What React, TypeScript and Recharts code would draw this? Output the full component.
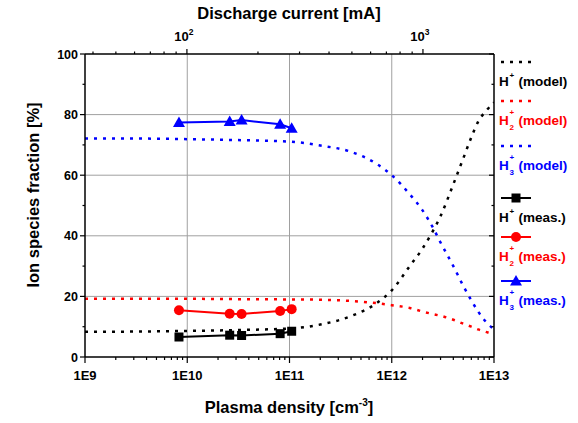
import React from 'react'
import {
  LineChart,
  Line,
  XAxis,
  YAxis,
  ReferenceLine,
} from 'recharts'

// ---- data ----
const modelDensity = [1e9, 3e9, 1e10, 3e10, 1e11, 2e11, 4e11, 7e11, 1e12, 1.5e12, 2e12, 2.5e12, 3e12, 4e12, 5e12, 6e12, 7e12, 8.5e12, 1e13]
const modelH1 = [8.3, 8.4, 8.6, 8.9, 9.4, 10.7, 13.5, 17.6, 22, 30, 35.8, 41.3, 46.5, 57, 65.5, 72.5, 77.7, 81.5, 84]
const modelH2 = [19.2, 19.2, 19.2, 19.1, 19.0, 18.9, 18.5, 17.8, 17.1, 16.2, 15.0, 14.2, 13.6, 12.3, 11.0, 10.0, 9.1, 8.2, 7.4]
const modelH3 = [72.1, 72.1, 71.9, 71.6, 71.1, 69.8, 67.7, 63.9, 60, 53.7, 48.4, 43, 37.8, 30, 23.5, 18.7, 15, 11.3, 9.2]

const measDensity = [8.3e9, 2.6e10, 3.4e10, 8.1e10, 1.05e11]
const measH1 = [6.6, 7.2, 7.1, 7.7, 8.5]
const measH2 = [15.4, 14.3, 14.2, 15.2, 15.8]
const measH3 = [77.4, 77.7, 78.2, 76.8, 75.5]

const densityMajor = [1e9, 1e10, 1e11, 1e12, 1e13]
const densityLabels = ['1E9', '1E10', '1E11', '1E12', '1E13']
const currentMajor = [100, 1000]
const currentExp = ['2', '3']
const currentDomain = [37, 2000]
const yMajor = [0, 20, 40, 60, 80, 100]
const yMinor = [10, 30, 50, 70, 90]
const gridDensity = [1e10, 1e11, 1e12]
const gridY = [20, 40, 60, 80]

const BLACK = '#000000'
const RED = '#ff0000'
const BLUE = '#0000ff'
const FONT = '"Liberation Sans", Arial, sans-serif'

const toPoints = (xs: number[], ys: number[]) => xs.map((x, i) => ({ x, y: ys[i] }))

// 1..9 x 10^d ticks for a log axis
function logTicks(lo: number, hi: number) {
  const out: number[] = []
  for (let d = Math.floor(Math.log10(lo)); d <= Math.ceil(Math.log10(hi)); d++) {
    for (let m = 1; m <= 9; m++) {
      const v = m * Math.pow(10, d)
      if (v >= lo * 0.999 && v <= hi * 1.001) out.push(+v.toPrecision(3))
    }
  }
  return out
}

const densityTicks = logTicks(1e9, 1e13)
const currentTicks = logTicks(currentDomain[0], currentDomain[1]).filter((v) => v >= 40 && v < 2000)
const yTicks = [...yMajor, ...yMinor].sort((a, b) => a - b)

const BottomTick = (props: any) => {
  const { x, y, payload } = props
  const v = payload.value
  const idx = densityMajor.findIndex((m) => Math.abs(m - v) / m < 1e-6)
  const major = idx >= 0
  return (
    <g>
      <line x1={x} x2={x} y1={y} y2={y + (major ? 6 : 3)} stroke={BLACK} strokeWidth={1.2} />
      {major && (
        <text x={x} y={y + 23} textAnchor="middle" fontFamily={FONT} fontWeight="bold" fontSize={13} fill={BLACK}>
          {densityLabels[idx]}
        </text>
      )}
    </g>
  )
}

const TopTick = (props: any) => {
  const { x, y, payload } = props
  const v = payload.value
  const idx = currentMajor.findIndex((m) => Math.abs(m - v) / m < 1e-6)
  const major = idx >= 0
  return (
    <g>
      <line x1={x} x2={x} y1={y} y2={y - (major ? 5 : 2.5)} stroke={BLACK} strokeWidth={1.2} />
      {major && (
        <text x={x - 3} y={y - 13} textAnchor="middle" fontFamily={FONT} fontWeight="bold" fontSize={13} fill={BLACK}>
          10
          <tspan dy={-6} fontSize={8.5}>{currentExp[idx]}</tspan>
        </text>
      )}
    </g>
  )
}

const LeftTick = (props: any) => {
  const { x, y, payload } = props
  const major = yMajor.includes(payload.value)
  return (
    <g>
      <line x1={x} x2={x - (major ? 5 : 2.5)} y1={y} y2={y} stroke={BLACK} strokeWidth={1.2} />
      {major && (
        <text x={x - 7} y={y + 4.5} textAnchor="end" fontFamily={FONT} fontWeight="bold" fontSize={12.5} fill={BLACK}>
          {payload.value}
        </text>
      )}
    </g>
  )
}

const RightTick = (props: any) => {
  const { x, y, payload } = props
  const major = yMajor.includes(payload.value)
  return <line x1={x} x2={x - (major ? 5 : 2.5)} y1={y} y2={y} stroke={BLACK} strokeWidth={1.2} />
}

const Square = (props: any) => {
  const { cx, cy } = props
  if (cx == null || cy == null) return null
  return <rect x={cx - 4.5} y={cy - 4.5} width={9} height={9} fill={BLACK} />
}
const Circle = (props: any) => {
  const { cx, cy } = props
  if (cx == null || cy == null) return null
  return <circle cx={cx} cy={cy} r={5} fill={RED} />
}
const Triangle = (props: any) => {
  const { cx, cy } = props
  if (cx == null || cy == null) return null
  return <polygon points={`${cx},${cy - 6} ${cx - 6},${cy + 4.5} ${cx + 6},${cy + 4.5}`} fill={BLUE} />
}

const series = [
  { key: 'm1', data: toPoints(modelDensity, modelH1), color: BLACK, dotted: true, n: '', label: '(model)' },
  { key: 'm2', data: toPoints(modelDensity, modelH2), color: RED, dotted: true, n: '2', label: '(model)' },
  { key: 'm3', data: toPoints(modelDensity, modelH3), color: BLUE, dotted: true, n: '3', label: '(model)' },
  { key: 'e1', data: toPoints(measDensity, measH1), color: BLACK, dotted: false, n: '', label: '(meas.)', marker: Square },
  { key: 'e2', data: toPoints(measDensity, measH2), color: RED, dotted: false, n: '2', label: '(meas.)', marker: Circle },
  { key: 'e3', data: toPoints(measDensity, measH3), color: BLUE, dotted: false, n: '3', label: '(meas.)', marker: Triangle },
]

// legend layout: y of each sample line
const legendY = [62, 101, 146, 198, 237, 281]

// H with stacked charge (sup) and count (sub)
function Ion({ n }: { n: string }) {
  return (
    <span style={{ position: 'relative', display: 'inline-block', paddingRight: 6 }}>
      H
      <span style={{ position: 'absolute', left: 10.5, top: n ? -4 : -2, fontSize: 8, lineHeight: '8px' }}>+</span>
      {n && <span style={{ position: 'absolute', left: 10.5, top: 11, fontSize: 8, lineHeight: '8px' }}>{n}</span>}
    </span>
  )
}

function LegendBlock() {
  return (
    <>
      {series.map((s, i) => (
        <div key={s.key} style={{ position: 'absolute', left: 499, top: legendY[i] - 8, width: 79 }}>
          <svg width={36} height={16} style={{ display: 'block' }}>
            <line x1={2} x2={32} y1={8} y2={8} stroke={s.color} strokeWidth={s.dotted ? 2.5 : 2} strokeDasharray={s.dotted ? '3 6' : undefined} />
            {s.marker && React.createElement(s.marker, { cx: 17, cy: 8 })}
          </svg>
          <div style={{ fontFamily: FONT, fontWeight: 'bold', fontSize: 13.5, lineHeight: '16px', marginTop: 4, whiteSpace: 'nowrap', color: s.color }}>
            <Ion n={s.n} /> {s.label}
          </div>
        </div>
      ))}
    </>
  )
}

export default function App() {
  return (
    <div style={{ position: 'absolute', left: 0, top: 0, width: 578, height: 423, background: '#fff' }}>
      <LineChart width={578} height={423} margin={{ top: 24, right: 78, bottom: 30, left: 40 }}>
        {gridDensity.map((d) => (
          <ReferenceLine key={'gx' + d} x={d} xAxisId="bottom" yAxisId="left" stroke="#a0a0a0" strokeWidth={1} />
        ))}
        {gridY.map((v) => (
          <ReferenceLine key={'gy' + v} y={v} xAxisId="bottom" yAxisId="left" stroke="#a0a0a0" strokeWidth={1} />
        ))}
        <XAxis
          xAxisId="bottom"
          dataKey="x"
          type="number"
          scale="log"
          domain={[1e9, 1e13]}
          allowDataOverflow
          ticks={densityTicks}
          interval={0}
          tick={<BottomTick />}
          tickLine={false}
          tickSize={0}
          tickMargin={0}
          height={36}
          axisLine={{ stroke: BLACK, strokeWidth: 1.5 }}
        />
        <XAxis
          xAxisId="top"
          dataKey="x"
          orientation="top"
          type="number"
          scale="log"
          domain={currentDomain}
          allowDataOverflow
          ticks={currentTicks}
          interval={0}
          tick={<TopTick />}
          tickLine={false}
          tickSize={0}
          tickMargin={0}
          height={30}
          axisLine={{ stroke: BLACK, strokeWidth: 1.5 }}
        />
        <YAxis
          yAxisId="left"
          type="number"
          domain={[0, 100]}
          ticks={yTicks}
          interval={0}
          tick={<LeftTick />}
          tickLine={false}
          tickSize={0}
          tickMargin={0}
          width={45}
          axisLine={{ stroke: BLACK, strokeWidth: 1.5 }}
        />
        <YAxis
          yAxisId="right"
          orientation="right"
          type="number"
          domain={[0, 100]}
          allowDataOverflow
          ticks={yTicks}
          interval={0}
          tick={<RightTick />}
          tickLine={false}
          tickSize={0}
          tickMargin={0}
          width={6}
          axisLine={{ stroke: BLACK, strokeWidth: 1.5 }}
        />
        {/* invisible anchor so the current axis and the right frame axis get drawn */}
        <Line
          xAxisId="top"
          yAxisId="right"
          data={currentDomain.map((x) => ({ x, y: 0 }))}
          dataKey="y"
          stroke="none"
          dot={false}
          activeDot={false}
          legendType="none"
          isAnimationActive={false}
        />
        {series.map((s) => (
          <Line
            key={s.key}
            xAxisId="bottom"
            yAxisId="left"
            data={s.data}
            dataKey="y"
            type={s.dotted ? 'monotone' : 'linear'}
            stroke={s.color}
            strokeWidth={s.dotted ? 2.5 : 2}
            strokeDasharray={s.dotted ? '3 6' : undefined}
            dot={s.marker ? React.createElement(s.marker) : false}
            activeDot={false}
            isAnimationActive={false}
          />
        ))}
      </LineChart>
      <div style={{ position: 'absolute', left: 189, width: 200, top: 4, textAlign: 'center', fontFamily: FONT, fontWeight: 'bold', fontSize: 16.5, whiteSpace: 'nowrap' }}>
        Discharge current [mA]
      </div>
      <div style={{ position: 'absolute', left: 179, width: 220, top: 397, textAlign: 'center', fontFamily: FONT, fontWeight: 'bold', fontSize: 16.5, whiteSpace: 'nowrap' }}>
        Plasma density [cm<sup style={{ fontSize: 10 }}>-3</sup>]
      </div>
      <div
        style={{
          position: 'absolute',
          left: 33 - 110,
          top: 195 - 10,
          width: 220,
          textAlign: 'center',
          transform: 'rotate(-90deg)',
          fontFamily: FONT,
          fontWeight: 'bold',
          fontSize: 16.5,
          lineHeight: '20px',
          whiteSpace: 'nowrap',
        }}
      >
        Ion species fraction [%]
      </div>
      <LegendBlock />
    </div>
  )
}
